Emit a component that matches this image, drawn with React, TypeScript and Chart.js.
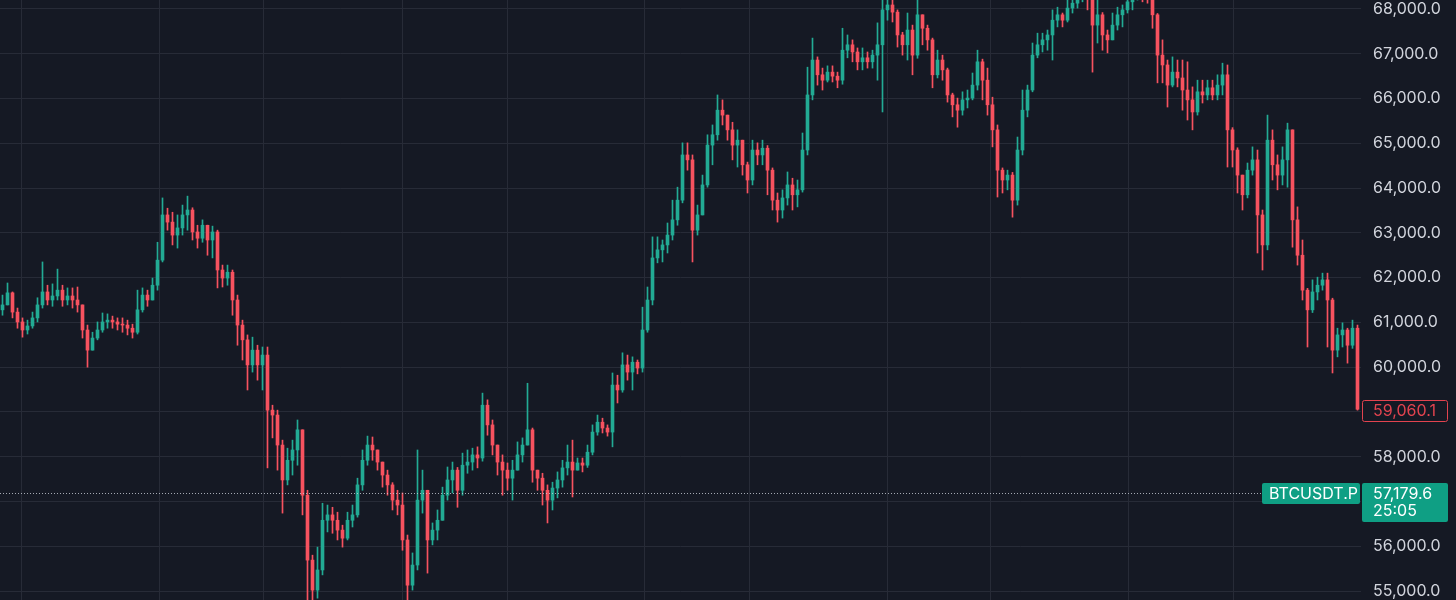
import React, { useEffect, useRef } from "react";
import { Chart, registerables } from "chart.js";

Chart.register(...registerables);

// ---- data (BTCUSDT.P candles) ----
const firstOpen = 61280;

const closes = [
  61390, 61660, 61230, 61010, 60830, 60920, 61100, 61390, 61680, 61500,
  61590, 61720, 61500, 61590, 61500, 61390, 60830, 60380, 60650, 60830,
  61010, 61050, 61010, 60960, 60940, 60870, 60780, 61280, 61610, 61500,
  61830, 62390, 63400, 63240, 62950, 63110, 63400, 63510, 63020, 62880,
  63170, 62840, 63020, 62170, 61990, 62120, 61500, 60940, 60610, 60050,
  60380, 60050, 60270, 59040, 58930, 58260, 57480, 57920, 58150, 58600,
  57140, 55690, 55020, 55470, 56580, 56700, 56580, 56360, 56180, 56580,
  56700, 57370, 57920, 58260, 58150, 57880, 57590, 57370, 57030, 56920,
  56140, 55130, 55580, 57030, 57250, 56140, 56360, 56580, 57140, 57480,
  57700, 57250, 57810, 57880, 58040, 57970, 59150, 58710, 58260, 57880,
  57700, 57520, 57700, 58040, 58260, 58600, 57700, 57520, 57250, 57030,
  57300, 57480, 57750, 57880, 57700, 57860, 57810, 58100, 58550, 58770,
  58640, 58550, 59600, 59490, 60050, 59890, 60110, 59980, 60830, 61500,
  62440, 62620, 62730, 62950, 63290, 63730, 64740, 64630, 63060, 63400,
  64070, 64960, 65190, 65740, 65630, 65300, 64960, 65070, 64520, 64180,
  64850, 64740, 64890, 64400, 63730, 63510, 63780, 64070, 63850, 63960,
  64850, 66080, 66860, 66530, 66410, 66590, 66500, 66410, 67080, 67200,
  67040, 66820, 66910, 66820, 66970, 67200, 67980, 68090, 67930, 67420,
  67200, 67530, 66970, 67870, 67570, 67310, 66530, 66860, 66640, 66080,
  65860, 65740, 65970, 66010, 66300, 66820, 66410, 65860, 65300, 64400,
  64180, 64290, 63730, 64850, 65740, 66190, 66970, 67200, 67310, 67420,
  67750, 67870, 67750, 68020, 68130, 68310, 68380, 68250, 67640, 67870,
  67420, 67310, 67640, 67870, 67980, 68160, 68310, 68380, 68330, 68290,
  67870, 66970, 66750, 66300, 66590, 66460, 66190, 65970, 65700, 66150,
  66080, 66240, 66080, 66300, 66530, 65300, 64850, 64290, 63850, 64400,
  64630, 63400, 62730, 65070, 64520, 64290, 64630, 65300, 63290, 62500,
  61720, 61280, 61680, 61830, 61950, 61500, 60380, 60720, 60830, 60490,
  60870, 59060.1,
];

const highs = [
  61610, 61880, 61680, 61320, 61100, 61050, 61230, 61550, 62350, 61830,
  61860, 62190, 61830, 61770, 61770, 61790, 61390, 60940, 60780, 61010,
  61210, 61190, 61140, 61100, 61100, 61050, 60960, 61720, 61770, 61720,
  61990, 62790, 63780, 63550, 63460, 63400, 63620, 63820, 63560, 63170,
  63290, 63170, 63150, 63060, 62280, 62280, 62170, 61610, 61050, 60720,
  60670, 60490, 60450, 60450, 59150, 59040, 58370, 58190, 58370, 58820,
  58600, 57250, 55800, 55980, 56960, 56920, 56870, 56760, 56470, 56760,
  56920, 57520, 58150, 58460, 58440, 58150, 57880, 57700, 57420, 57250,
  57190, 56250, 55850, 58150, 57700, 57250, 56520, 56810, 57320, 57770,
  57880, 57760, 58080, 58150, 58190, 58220, 59420, 59270, 58820, 58260,
  58040, 57860, 57920, 58330, 58420, 59640, 58640, 57700, 57630, 57370,
  57430, 57660, 57920, 58260, 58370, 57970, 57970, 58260, 58710, 58930,
  58860, 58710, 59870, 59820, 60320, 60270, 60230, 60160, 61340, 61790,
  62910, 62910, 62840, 63220, 63730, 64020, 65010, 65010, 64740, 63620,
  64290, 65190, 65410, 66080, 65970, 65630, 65470, 65300, 65070, 64580,
  65070, 65010, 65070, 64950, 64450, 63890, 63960, 64360, 64220, 64180,
  65230, 66700, 67350, 66930, 66680, 66730, 66730, 66590, 67570, 67420,
  67310, 67130, 67130, 67040, 67080, 67690, 68310, 68380, 68310, 67980,
  67480, 67910, 67640, 68380, 67870, 67640, 67350, 67080, 66970, 66680,
  66120, 66010, 66150, 66190, 66570, 67080, 66880, 66680, 66030, 65410,
  64450, 64400, 64350, 65140, 66190, 66300, 67240, 67460, 67460, 67530,
  67980, 68040, 67910, 68200, 68310, 68420, 68470, 68450, 68310, 68200,
  67920, 67530, 67910, 68040, 68090, 68310, 68420, 68470, 68470, 68420,
  68310, 67900, 67310, 66860, 66930, 66860, 66860, 66820, 66260, 66410,
  66410, 66410, 66410, 66530, 66790, 66750, 65350, 64900, 64290, 64560,
  64920, 64850, 63510, 65630, 65300, 64740, 64920, 65450, 65300, 63580,
  62840, 61760, 61950, 62010, 62100, 62100, 61540, 60870, 60990, 60870,
  61050, 60940,
];

const lows = [
  61160, 61390, 61100, 60870, 60670, 60740, 60870, 61010, 61320, 61390,
  61360, 61500, 61360, 61390, 61320, 61230, 60650, 60000, 60380, 60610,
  60780, 60870, 60870, 60830, 60780, 60720, 60650, 60740, 61230, 61360,
  61500, 61720, 62350, 63060, 62730, 62660, 62950, 63060, 62840, 62660,
  62790, 62500, 62440, 61770, 61790, 61830, 61160, 60490, 60160, 59490,
  59890, 59710, 59490, 57750, 58420, 57700, 56740, 57370, 57590, 57810,
  56700, 54800, 54690, 54840, 55360, 56320, 56290, 56140, 55980, 56140,
  56430, 56650, 57250, 57810, 57920, 57700, 57320, 57140, 56810, 56700,
  55910, 54800, 55020, 55470, 56740, 55400, 56030, 56140, 56580, 57030,
  57190, 56870, 57140, 57630, 57700, 57750, 57900, 58480, 58040, 57590,
  57140, 57250, 57030, 57700, 57880, 58260, 57430, 57250, 56920, 56520,
  56810, 57080, 57320, 57590, 57100, 57700, 57660, 57760, 58040, 58480,
  58530, 58460, 58220, 59200, 59440, 59710, 59490, 59850, 59890, 60780,
  61390, 62330, 62350, 62550, 62840, 63170, 63670, 64400, 62350, 62950,
  63400, 64020, 64520, 65070, 65410, 65070, 64630, 64470, 64290, 63890,
  64070, 64520, 64520, 63850, 63510, 63240, 63330, 63620, 63510, 63580,
  63910, 64740, 65970, 66300, 66190, 66370, 66370, 66240, 66320, 66910,
  66820, 66640, 66640, 66680, 66680, 66410, 65700, 67750, 67710, 67150,
  66970, 66860, 66530, 66900, 67200, 67080, 66240, 66460, 66410, 65920,
  65590, 65360, 65630, 65790, 65970, 66190, 65970, 65630, 64920, 63800,
  63890, 63960, 63350, 63620, 64740, 65590, 66150, 66910, 67040, 67080,
  66860, 67600, 67600, 67710, 67910, 68020, 68160, 67980, 66590, 67240,
  67080, 67020, 67310, 67530, 67600, 67910, 67980, 68200, 68160, 68130,
  67570, 66350, 66350, 65810, 66260, 66260, 65740, 65520, 65300, 65630,
  65900, 65970, 65970, 65970, 66080, 64470, 64470, 63890, 63510, 63780,
  64290, 62550, 62170, 62620, 64180, 63960, 64070, 64020, 62680, 62280,
  61500, 60450, 61220, 61500, 61720, 60450, 59870, 60230, 60450, 60090,
  60420, 59040,
];

const priceTicks = [
  55000, 56000, 57000, 58000, 59000, 60000, 61000, 62000, 63000, 64000,
  65000, 66000, 67000, 68000,
];
// candle indices where the time grid lines fall
const timeGridIdx = [3.7, 31.3, 52.1, 79.9, 100.9, 128.3, 149.3, 176.9, 197.5, 225.1, 246.1];

const lastPrice = 59060.1;
const markPrice = 57179.6;
const symbolName = "BTCUSDT.P";
const countdown = "25:05";

// ---- styles ----
const UP = "#22ab94";
const DOWN = "#f7525f";
const LABEL_RED = "#e2434f";
const BADGE = "#0f9f84";
const BG = "#151924";
const GRID = "#272b37";
const TEXT = "#d1d4dc";
const FONT = "Inter, 'Noto Sans', sans-serif";
const FONT_SIZE = 16;

const fmt = (v: number) =>
  Number(v).toLocaleString("en-US", { minimumFractionDigits: 1, maximumFractionDigits: 1 });

export default function App() {
  const ref = useRef<HTMLCanvasElement>(null);

  useEffect(() => {
    document.body.style.margin = "0";
    document.body.style.background = BG;
    const canvas = ref.current;
    if (!canvas) return;

    const opens = closes.map((c, i) => (i === 0 ? firstOpen : closes[i - 1]));
    const colors = closes.map((c, i) => (c >= opens[i] ? UP : DOWN));
    const bodies = closes.map((c, i) => ({ x: i, y: [opens[i], c] }));
    const wicks = closes.map((c, i) => ({
      x: i,
      y: [Math.min(lows[i], opens[i], c), Math.max(highs[i], opens[i], c)],
    }));

    const overlay = {
      id: "overlay",
      beforeDraw(chart: any) {
        const ctx = chart.ctx;
        ctx.save();
        ctx.fillStyle = BG;
        ctx.fillRect(0, 0, chart.width, chart.height);
        ctx.restore();
      },
      afterDraw(chart: any) {
        const ctx = chart.ctx;
        const ys = chart.scales.y;
        const area = chart.chartArea;
        ctx.save();
        ctx.font = `${FONT_SIZE}px ${FONT}`;
        ctx.textBaseline = "middle";
        ctx.textAlign = "left";

        // mark price dotted line + badges
        const my = Math.round(ys.getPixelForValue(markPrice)) + 0.5;
        const symW = 98;
        const symLeft = area.right - 99;
        ctx.strokeStyle = "rgba(200,205,215,0.8)";
        ctx.lineWidth = 1;
        ctx.setLineDash([1, 2]);
        ctx.beginPath();
        ctx.moveTo(area.left, my);
        ctx.lineTo(symLeft, my);
        ctx.stroke();
        ctx.setLineDash([]);

        ctx.fillStyle = BADGE;
        ctx.beginPath();
        ctx.roundRect(symLeft, my - 10.5, symW, 21, 2);
        ctx.fill();
        ctx.beginPath();
        ctx.roundRect(area.right + 1, my - 10.5, 86, 39, 2);
        ctx.fill();
        ctx.fillStyle = "#ffffff";
        ctx.fillText(symbolName, symLeft + 7, my + 0.5);
        ctx.fillText(fmt(markPrice), area.right + 12, my + 0.5);
        ctx.fillText(countdown, area.right + 12, my + 18);

        // last price label
        const ly = Math.round(ys.getPixelForValue(lastPrice));
        ctx.fillStyle = BG;
        ctx.fillRect(area.right + 1, ly - 9, 86, 22);
        ctx.strokeStyle = LABEL_RED;
        ctx.lineWidth = 1;
        ctx.beginPath();
        ctx.roundRect(area.right + 1.5, ly - 8.5, 85, 21, 2);
        ctx.stroke();
        ctx.fillStyle = LABEL_RED;
        ctx.fillText(fmt(lastPrice), area.right + 12, ly + 2);
        ctx.restore();
      },
    };

    const chart = new Chart(canvas, {
      type: "bar",
      data: {
        datasets: [
          {
            data: wicks as any,
            backgroundColor: colors,
            barThickness: 1,
            grouped: false,
            order: 2,
          } as any,
          {
            data: bodies as any,
            backgroundColor: colors,
            barThickness: 3,
            minBarLength: 1,
            grouped: false,
            order: 1,
          } as any,
        ],
      },
      options: {
        animation: false,
        responsive: false,
        layout: { padding: 0 },
        plugins: { legend: { display: false }, tooltip: { enabled: false } },
        scales: {
          x: {
            type: "linear",
            min: -0.5,
            max: 271.7,
            offset: false,
            grid: { color: GRID, drawTicks: false, offset: false },
            border: { display: false },
            ticks: { display: false },
            afterBuildTicks: (s: any) => {
              s.ticks = timeGridIdx.map((v) => ({ value: v }));
            },
            afterFit: (s: any) => {
              s.height = 0;
              s.paddingLeft = 0;
              s.paddingRight = 0;
            },
          } as any,
          y: {
            position: "right",
            min: 54799,
            max: 68201,
            grid: { color: GRID, drawTicks: false },
            border: { display: false },
            ticks: {
              color: TEXT,
              font: { family: FONT, size: FONT_SIZE },
              padding: 12,
              callback: (v: any) => fmt(v),
            },
            afterBuildTicks: (s: any) => {
              s.ticks = priceTicks.map((v) => ({ value: v }));
            },
            afterFit: (s: any) => {
              s.width = 95;
              s.paddingTop = 0;
              s.paddingBottom = 0;
            },
          } as any,
        },
      },
      plugins: [overlay],
    });
    return () => chart.destroy();
  }, []);

  return (
    <div
      style={{
        position: "fixed",
        left: 0,
        top: 0,
        width: 1456,
        height: 600,
        background: BG,
        overflow: "hidden",
      }}
    >
      <canvas ref={ref} width={1456} height={600} style={{ display: "block", width: 1456, height: 600 }} />
    </div>
  );
}
